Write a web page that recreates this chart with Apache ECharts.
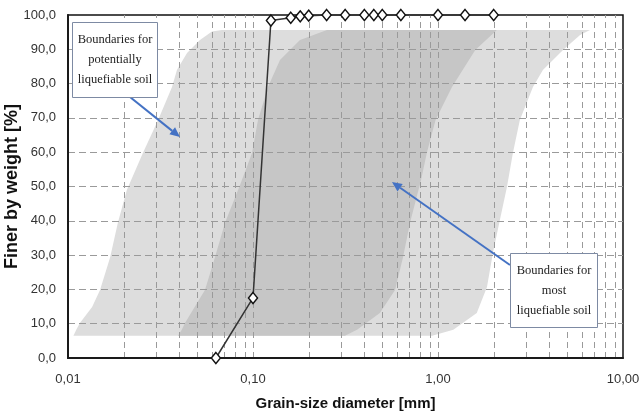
<!DOCTYPE html>
<html>
<head>
<meta charset="utf-8">
<script src="https://cdn.jsdelivr.net/npm/echarts@6/dist/echarts.min.js"></script>
<style>
  html, body { margin: 0; padding: 0; background: #fff; }
  #chart { width: 640px; height: 417px; }
</style>
</head>
<body>
<div id="chart"></div>
<script>
// Sieve analysis: grain size [mm] vs. percentage passing
const sieveSize = [0.063, 0.1, 0.125, 0.16, 0.18, 0.2, 0.25, 0.315, 0.4, 0.45, 0.5, 0.63, 1.0, 1.4, 2.0];
const passing   = [0, 17.5, 98.4, 99.2, 99.6, 99.8, 100, 100, 100, 100, 100, 100, 100, 100, 100];

// Outline of the zone of potentially liquefiable soils [mm, %]
const wideBand = [
  [0.0107, 6.5], [0.0111, 8.3], [0.0116, 10.2], [0.0135, 14.9], [0.0149, 19.8],
  [0.0169, 29.4], [0.0186, 39.4], [0.0208, 49.0], [0.0254, 59.8], [0.0307, 69.4],
  [0.0365, 79.0], [0.0388, 84.0], [0.0440, 88.9], [0.0517, 92.7], [0.0600, 95.2],
  [0.0680, 95.6], [6.63, 95.6], [5.86, 94.2], [4.74, 89.8], [3.69, 84.0],
  [3.26, 79.0], [2.77, 69.4], [2.54, 59.8], [2.36, 49.9], [2.16, 40.2],
  [1.98, 30.6], [1.84, 20.7], [1.62, 13.1], [1.21, 8.2], [0.93, 6.5]
];

// Outline of the zone of most liquefiable soils [mm, %]
const narrowBand = [
  [0.0393, 6.5], [0.0410, 8.0], [0.0429, 10.2], [0.0550, 19.8], [0.0623, 29.4],
  [0.0706, 39.4], [0.0850, 50.4], [0.0988, 59.8], [0.1064, 69.4], [0.1205, 79.0],
  [0.1399, 86.9], [0.1795, 92.7], [0.2512, 95.6], [2.08, 95.6], [1.59, 89.8],
  [1.19, 79.0], [0.97, 69.4], [0.87, 59.8], [0.81, 51.9], [0.706, 39.4],
  [0.647, 29.4], [0.586, 19.8], [0.485, 13.1], [0.365, 8.2], [0.314, 6.5]
];

// Vertical gridlines of the logarithmic grain-size axis
const gridX = [
  0.02, 0.03, 0.04, 0.05, 0.06, 0.07, 0.08, 0.09, 0.1,
  0.2, 0.3, 0.4, 0.5, 0.6, 0.7, 0.8, 0.9, 1,
  2, 3, 4, 5, 6, 7, 8, 9
];

// Callout boxes [x0, y0, x1, y1] and their texts
const noteBoxes = [
  [0.01051, 98.0, 0.03026, 76.1],
  [2.449, 30.6, 7.23, 9.0]
];
const noteTexts = [
  'Boundaries for\npotentially\nliquefiable soil',
  'Boundaries for\nmost\nliquefiable soil'
];

// Callout arrows [xFrom, yFrom, xTo, yTo]
const arrows = [
  [0.02163, 76.1, 0.04032, 64.4],
  [2.449, 27.1, 0.5638, 51.3]
];

const fmtComma = (v, d) => v.toFixed(d).replace('.', ',');
const crisp = v => Math.round(v) + 0.5;

function bandSeries(points, color) {
  return {
    type: 'custom',
    z: 1,
    silent: true,
    data: points,
    encode: { x: 0, y: 1 },
    renderItem(params, api) {
      if (params.dataIndex !== 0) return null;
      return {
        type: 'polygon',
        shape: { points: points.map(p => api.coord(p)) },
        style: { fill: color }
      };
    }
  };
}

const chart = echarts.init(document.getElementById('chart'), null, { renderer: 'canvas' });

chart.setOption({
  animation: false,
  backgroundColor: '#ffffff',
  grid: {
    left: 68, right: 17, top: 15, bottom: 59,
    containLabel: false,
    outerBoundsMode: 'none',
    show: true, borderColor: '#111', borderWidth: 1.5, backgroundColor: 'transparent'
  },
  xAxis: {
    type: 'log',
    logBase: 10,
    min: 0.01,
    max: 10,
    z: 3,
    axisLine: { show: true, onZero: false, lineStyle: { color: '#1a1a1a', width: 2 } },
    axisTick: { show: false },
    splitLine: { show: false },
    axisLabel: {
      formatter: v => fmtComma(v, 2),
      color: '#333', fontSize: 13, fontFamily: 'Liberation Sans', margin: 15
    },
    name: 'Grain-size diameter [mm]',
    nameLocation: 'middle',
    nameGap: 38,
    nameMoveOverlap: false,
    nameTextStyle: { fontWeight: 'bold', fontSize: 15, color: '#111', fontFamily: 'Liberation Sans' }
  },
  yAxis: {
    type: 'value',
    min: 0,
    max: 100,
    interval: 10,
    z: 3,
    axisLine: { show: true, lineStyle: { color: '#1a1a1a', width: 2 } },
    axisTick: { show: false },
    splitLine: {
      show: true, showMinLine: false, showMaxLine: false,
      lineStyle: { color: '#9a9a9a', type: [7, 4], width: 1 }
    },
    axisLabel: {
      formatter: v => fmtComma(v, 1),
      color: '#333', fontSize: 13, fontFamily: 'Liberation Sans', margin: 12
    },
    name: 'Finer by weight [%]',
    nameLocation: 'middle',
    nameGap: 47,
    nameMoveOverlap: false,
    nameTextStyle: { fontWeight: 'bold', fontSize: 18, color: '#111', fontFamily: 'Liberation Sans' }
  },
  series: [
    bandSeries(wideBand, '#dddddd'),
    bandSeries(narrowBand, '#c6c6c6'),
    {
      type: 'custom',
      z: 3,
      silent: true,
      data: gridX.map(v => [v, 0]),
      encode: { x: 0, y: 1 },
      renderItem(params, api) {
        const a = api.coord([api.value(0), 0]);
        const b = api.coord([api.value(0), 100]);
        const x = crisp(a[0]);
        return {
          type: 'line',
          shape: { x1: x, y1: a[1], x2: x, y2: b[1] },
          style: { stroke: '#9a9a9a', lineWidth: 1, lineDash: [6, 4] }
        };
      }
    },
    {
      type: 'line',
      z: 6,
      clip: false,
      data: sieveSize.map((s, i) => [s, passing[i]]),
      symbol: 'diamond',
      symbolSize: [9, 11],
      showSymbol: true,
      lineStyle: { color: '#333', width: 1.5 },
      itemStyle: { color: '#ffffff', borderColor: '#111', borderWidth: 1.5 }
    },
    {
      type: 'custom',
      z: 7,
      silent: true,
      data: arrows,
      encode: { x: [0, 2], y: [1, 3] },
      renderItem(params, api) {
        const a = api.coord([api.value(0), api.value(1)]);
        const b = api.coord([api.value(2), api.value(3)]);
        const dx = b[0] - a[0], dy = b[1] - a[1];
        const L = Math.hypot(dx, dy), ux = dx / L, uy = dy / L;
        const head = 10, hw = 4.5;
        const bx = b[0] - ux * head, by = b[1] - uy * head;
        return {
          type: 'group',
          children: [
            { type: 'line', shape: { x1: a[0], y1: a[1], x2: bx, y2: by },
              style: { stroke: '#4472c4', lineWidth: 2 } },
            { type: 'polygon',
              shape: { points: [[b[0], b[1]], [bx - uy * hw, by + ux * hw], [bx + uy * hw, by - ux * hw]] },
              style: { fill: '#4472c4' } }
          ]
        };
      }
    },
    {
      type: 'custom',
      z: 8,
      silent: true,
      data: noteBoxes,
      encode: { x: [0, 2], y: [1, 3] },
      renderItem(params, api) {
        const p0 = api.coord([api.value(0), api.value(1)]);
        const p1 = api.coord([api.value(2), api.value(3)]);
        const x = crisp(p0[0]), y = crisp(p0[1]);
        const w = Math.round(p1[0] - p0[0]), h = Math.round(p1[1] - p0[1]);
        return {
          type: 'group',
          children: [
            { type: 'rect', shape: { x, y, width: w, height: h },
              style: { fill: '#ffffff', stroke: '#7d8aa3', lineWidth: 1 } },
            { type: 'text',
              style: {
                x: x + w / 2, y: y + h / 2,
                text: noteTexts[params.dataIndex],
                align: 'center', verticalAlign: 'middle',
                fontSize: 12.5, fontFamily: 'Liberation Serif',
                lineHeight: 20, fill: '#222'
              } }
          ]
        };
      }
    }
  ]
});
</script>
</body>
</html>
